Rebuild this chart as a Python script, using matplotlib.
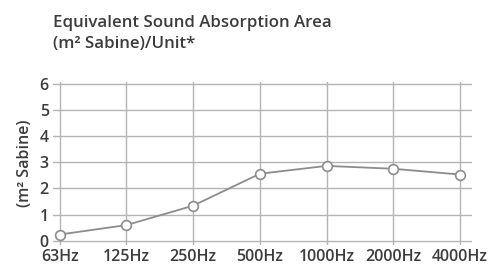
import matplotlib
matplotlib.use("Agg")
import matplotlib.pyplot as plt

# Data
bands = ['63Hz', '125Hz', '250Hz', '500Hz', '1000Hz', '2000Hz', '4000Hz']
sabine = [0.24, 0.60, 1.34, 2.56, 2.86, 2.75, 2.53]
yticks = [0, 1, 2, 3, 4, 5, 6]

TEXT = '#3c3c3c'
GRID = '#b4b4b4'
LINE = '#8c8c8c'

plt.rcParams['font.family'] = ['Open Sans', 'DejaVu Sans']

fig = plt.figure(figsize=(4.92, 2.68), dpi=100)
fig.patch.set_facecolor('white')
ax = fig.add_axes([0.1077, 0.0858, 0.8516, 0.609])

x = list(range(len(bands)))
ax.plot(x, sabine, color=LINE, lw=1.3, marker='o', ms=7,
        mfc='white', mec=LINE, mew=1.2, zorder=3)

ax.set_xlim(-0.1, 6.18)
ax.set_ylim(-0.16, 6.07)
ax.set_xticks(x)
ax.set_xticklabels(bands)
ax.set_yticks(yticks)
ax.grid(True, color=GRID, lw=1.0)
ax.set_axisbelow(True)
for s in ax.spines.values():
    s.set_visible(False)
ax.tick_params(length=0, labelsize=11.5, colors=TEXT, pad=3)
for lab in ax.get_xticklabels() + ax.get_yticklabels():
    lab.set_fontweight('semibold')
ax.set_ylabel('(m² Sabine)', fontsize=11.5, color=TEXT, labelpad=5,
              fontweight='semibold')

fig.text(0.108, 0.916, 'Equivalent Sound Absorption Area', fontsize=12.2,
         color=TEXT, va='center', ha='left', fontweight='semibold')
fig.text(0.108, 0.834, '(m² Sabine)/Unit*', fontsize=12.2,
         color=TEXT, va='center', ha='left', fontweight='semibold')

fig.savefig('out.png', dpi=100)
